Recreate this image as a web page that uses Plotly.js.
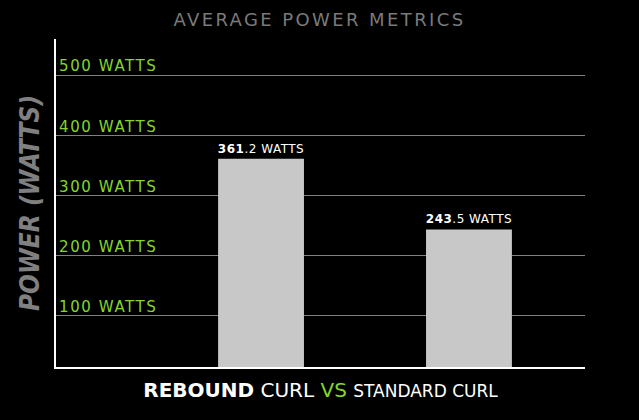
<!DOCTYPE html>
<html>
<head>
<meta charset="utf-8">
<script src="https://cdn.plot.ly/plotly-3.0.1.min.js"></script>
<style>
  html, body { margin: 0; padding: 0; background: #000; }
  #chart { width: 639px; height: 420px; }
</style>
</head>
<body>
<div id="chart"></div>
<script>
// 평균 파워 비교
const CATEGORIES = ['REBOUND CURL', 'STANDARD CURL'];
const POWER = [361.2, 243.5];
const TICK_VALS = [100, 200, 300, 400, 500];
const TICK_TEXT = ['100 WATTS', '200 WATTS', '300 WATTS', '400 WATTS', '500 WATTS'];

const GREEN = '#84d62b';
const FONT = 'DejaVu Sans, sans-serif';

// "361.2 WATTS" -> 정수부만 굵게
const barText = POWER.map(v => {
  const [i, d] = String(v).split('.');
  return `<span style="letter-spacing:0.5px"><b>${i}</b>.${d} WATTS</span>`;
});

const trace = {
  x: CATEGORIES,
  y: POWER,
  type: 'bar',
  width: 0.413,
  marker: { color: '#c8c8c8', line: { width: 0 } },
  text: barText,
  textposition: 'outside',
  constraintext: 'none',
  cliponaxis: false,
  textfont: { family: FONT, size: 12, color: '#ffffff' },
  hoverinfo: 'skip',
};

const layout = {
  width: 639, height: 420,
  paper_bgcolor: '#000',
  plot_bgcolor: '#000',
  margin: { l: 56, r: 54, t: 39, b: 53 },
  showlegend: false,
  font: { family: FONT, color: '#fff' },
  title: {
    text: '<span style="letter-spacing:2.4px">AVERAGE POWER METRICS</span>',
    font: { family: FONT, size: 18, color: '#7a7a7a' },
    x: 0.5, xanchor: 'center', y: 0.952, yanchor: 'middle',
  },
  xaxis: {
    type: 'category',
    range: [-0.986, 1.558],
    showticklabels: false,
    ticks: '',
    showgrid: false,
    showline: true, linecolor: '#ffffff', linewidth: 2,
    zeroline: false,
    title: {
      text: '<b>REBOUND</b> CURL <span style="color:' + GREEN + '">VS</span> <span style="font-size:17px">STANDARD CURL</span>',
      font: { family: FONT, size: 20, color: '#ffffff' },
      standoff: 15,
    },
  },
  yaxis: {
    range: [15, 560],
    tickvals: TICK_VALS,
    ticktext: TICK_TEXT.map(t => `<span style="letter-spacing:1.6px">${t}</span>`),
    ticklabelposition: 'inside',
    ticklabelshift: -9,
    ticklabelstandoff: 3,
    ticks: '',
    tickfont: { family: FONT, size: 15, color: GREEN },
    showgrid: true, gridcolor: '#808080', gridwidth: 1,
    showline: true, linecolor: '#ffffff', linewidth: 2,
    zeroline: false,
    title: {
      text: '<b><i>POWER (WATTS)</i></b>',
      font: { family: 'DejaVu Sans Condensed, DejaVu Sans, sans-serif', size: 26, color: '#808080' },
      standoff: 12,
    },
  },
};

Plotly.newPlot('chart', [trace], layout, { displayModeBar: false, staticPlot: true });
</script>
</body>
</html>
